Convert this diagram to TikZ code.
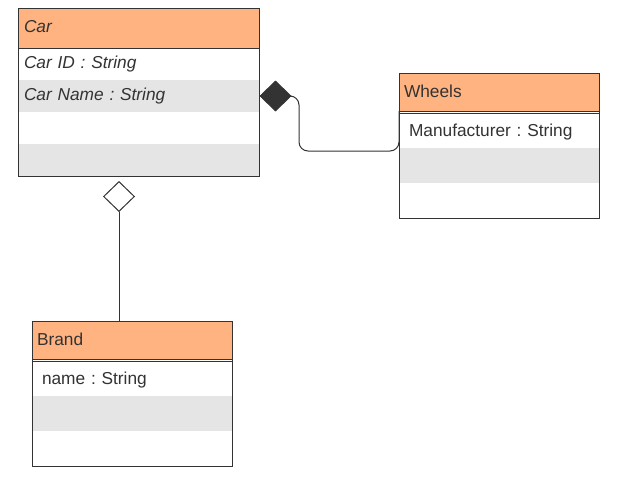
\documentclass[tikz,border=0pt]{standalone}
\usepackage{fontspec}
\setmainfont{Liberation Sans}
\usetikzlibrary{shapes.geometric}
\frenchspacing
\definecolor{hdrc}{HTML}{FFB380}
\definecolor{grayc}{HTML}{E5E5E5}
\definecolor{linec}{HTML}{333333}
\definecolor{txtc}{HTML}{333333}
\newcommand{\cfont}{\fontsize{17.3}{20}\selectfont}
\tikzset{
  cls/.style={anchor=north west, outer sep=0pt, inner ysep=0pt, align=left,
    font=\cfont, text=txtc, text height=12.3pt, text depth=4.3pt},
  lowtext/.style={text height=13pt, text depth=2pt},
  hdrrow/.style={cls, fill=hdrc},
  whiterow/.style={cls, fill=white},
  grayrow/.style={cls, fill=grayc},
  border/.style={draw=linec, line width=1pt},
  conn/.style={draw=linec, line width=1pt},
  dia/.style={diamond, draw=linec, line width=1pt, inner sep=0pt,
    minimum width=31pt, minimum height=30pt},
}
\begin{document}
\begin{tikzpicture}[x=1pt,y=-1pt]
\useasboundingbox[fill=white] (0,0) rectangle (623,493);
% Car
\node[hdrrow, minimum height=40pt, text width=229pt, inner xsep=6pt, font=\cfont\itshape] (carh) at (18,8) {Car};
\node[whiterow, minimum height=32pt, text width=229pt, inner xsep=6pt, font=\cfont\itshape] (car1) at (carh.south west) {Car ID : String};
\node[grayrow, minimum height=32pt, text width=229pt, inner xsep=6pt, font=\cfont\itshape] (car2) at (car1.south west) {Car Name : String};
\node[whiterow, minimum height=32pt, text width=229pt, inner xsep=6pt] (car3) at (car2.south west) {};
\node[grayrow, minimum height=32pt, text width=229pt, inner xsep=6pt] (car4) at (car3.south west) {};
\draw[border] (carh.north west) rectangle (car4.south east);
\draw[border] (carh.south west) -- (carh.south east);
% Wheels
\node[hdrrow, lowtext, minimum height=38pt, text width=190pt, inner xsep=5pt] (wh) at (399,73) {Wheels};
\node[whiterow, lowtext, minimum height=35pt, text width=180pt, inner xsep=10pt] (wr1) at ([yshift=-2pt]wh.south west) {Manufacturer : String};
\node[grayrow, minimum height=35pt, text width=180pt, inner xsep=10pt] (wr2) at (wr1.south west) {};
\node[whiterow, minimum height=35pt, text width=180pt, inner xsep=10pt] (wr3) at (wr2.south west) {};
\draw[border] (wh.north west) rectangle (wr3.south east);
\draw[border] (wh.south west) -- (wh.south east);
\draw[border] (wr1.north west) -- (wr1.north east);
% Brand
\node[hdrrow, lowtext, minimum height=38pt, text width=190pt, inner xsep=5pt] (bh) at (32,321) {Brand};
\node[whiterow, lowtext, minimum height=35pt, text width=180pt, inner xsep=10pt] (br1) at ([yshift=-2pt]bh.south west) {name : String};
\node[grayrow, minimum height=35pt, text width=180pt, inner xsep=10pt] (br2) at (br1.south west) {};
\node[whiterow, minimum height=35pt, text width=180pt, inner xsep=10pt] (br3) at (br2.south west) {};
\draw[border] (bh.north west) rectangle (br3.south east);
\draw[border] (bh.south west) -- (bh.south east);
\draw[border] (br1.north west) -- (br1.north east);
% composition
\node[dia, fill=linec] (fd) at (275.5,96) {};
\coordinate (bend) at (299,151);
\draw[conn, rounded corners=9pt] (fd.east) -| (bend) -| (wh.south west);
% aggregation
\node[dia, fill=white] (od) at (119,196.5) {};
\draw[conn] (od.south) -- (od.south |- bh.north);
\end{tikzpicture}
\end{document}
